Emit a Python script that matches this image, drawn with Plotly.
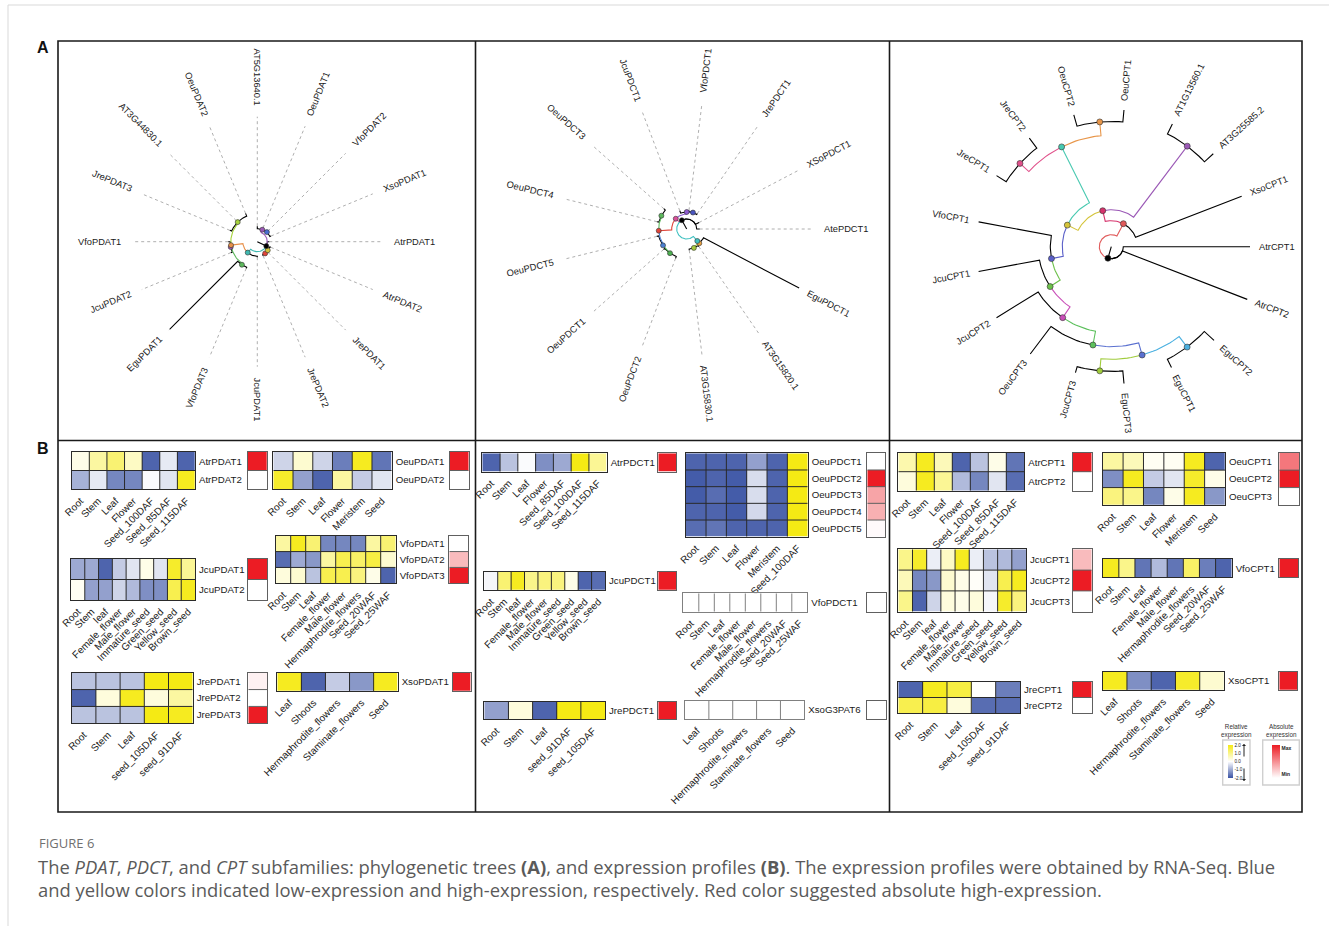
import math
import plotly.graph_objects as go

W, H = 1329, 926
FONT = "Liberation Sans, Arial, sans-serif"
CAPFONT = "Open Sans, Noto Sans, sans-serif"

# ------------------------------------------------------------------ tissues
TISSUE_ATR = ["Root", "Stem", "Leaf", "Flower", "Seed_100DAF", "Seed_85DAF", "Seed_115DAF"]
TISSUE_ATR_PDCT = ["Root", "Stem", "Leaf", "Flower", "Seed_85DAF", "Seed_100DAF", "Seed_115DAF"]
TISSUE_OEU = ["Root", "Stem", "Leaf", "Flower", "Meristem", "Seed"]
TISSUE_OEU_PDCT = ["Root", "Stem", "Leaf", "Flower", "Meristem", "Seed_100DAF"]
TISSUE_JCU = ["Root", "Stem", "leaf", "Female_flower", "Male_flower", "Immature_seed",
              "Green_seed", "Yellow_seed", "Brown_seed"]
TISSUE_VFO = ["Root", "Stem", "Leaf", "Female_flower", "Male_flower", "Hermaphrodite_flowers",
              "Seed_20WAF", "Seed_25WAF"]
TISSUE_JRE = ["Root", "Stem", "Leaf", "seed_105DAF", "seed_91DAF"]
TISSUE_JRE_PDCT = ["Root", "Stem", "Leaf", "seed_91DAF", "seed_105DAF"]
TISSUE_XSO = ["Leaf", "Shoots", "Hermaphrodite_flowers", "Staminate_flowers", "Seed"]

# ------------------------------------------------------------------ PDAT
ATR_PDAT_GENES = ["AtrPDAT1", "AtrPDAT2"]
ATR_PDAT_REL = [[0.2, 0.8, 1.2, 0.5, -1.8, -0.25, -1.8],
                [-0.9, -0.25, -1.4, -1.4, -0.05, -0.3, 1.9]]
ATR_PDAT_ABS = [1.0, 0.0]

OEU_PDAT_GENES = ["OeuPDAT1", "OeuPDAT2"]
OEU_PDAT_REL = [[-0.5, 0.4, -0.5, -1.5, 1.9, -1.6],
                [1.8, -1.1, -1.8, 0.8, -0.6, -0.3]]
OEU_PDAT_ABS = [1.0, 0.0]

JCU_PDAT_GENES = ["JcuPDAT1", "JcuPDAT2"]
JCU_PDAT_REL = [[-1.0, -1.0, -1.8, -0.6, -0.3, 0.2, -0.3, 1.8, 0.9],
                [0.1, -1.1, -1.1, -0.5, -0.8, -1.3, -1.3, 1.5, 1.9]]
JCU_PDAT_ABS = [1.0, 0.0]

VFO_PDAT_GENES = ["VfoPDAT1", "VfoPDAT2", "VfoPDAT3"]
VFO_PDAT_REL = [[0.8, 1.9, 1.2, -1.4, -1.4, -1.4, 0.8, 1.2],
                [-1.7, -1.0, -1.2, 0.8, 1.5, 1.3, 1.6, 0.4],
                [0.3, 0.4, -0.7, 1.5, 1.5, 1.1, 0.2, -1.8]]
VFO_PDAT_ABS = [0.0, 0.3, 1.0]

JRE_PDAT_GENES = ["JrePDAT1", "JrePDAT2", "JrePDAT3"]
JRE_PDAT_REL = [[-0.7, -0.7, -0.7, 2.0, 2.0],
                [-1.8, 0.3, 1.9, 0.3, 0.8],
                [-0.7, -0.7, -0.7, 2.0, 1.9]]
JRE_PDAT_ABS = [0.06, 0.0, 1.0]

XSO_PDAT_GENES = ["XsoPDAT1"]
XSO_PDAT_REL = [[1.9, -1.8, -0.6, -1.2, 1.9]]
XSO_PDAT_ABS = [1.0]

# ------------------------------------------------------------------ PDCT
ATR_PDCT_GENES = ["AtrPDCT1"]
ATR_PDCT_REL = [[-1.8, -0.7, -0.05, -1.3, -1.0, 2.0, 0.9]]
ATR_PDCT_ABS = [1.0]

OEU_PDCT_GENES = ["OeuPDCT1", "OeuPDCT2", "OeuPDCT3", "OeuPDCT4", "OeuPDCT5"]
OEU_PDCT_REL = [[-1.8, -1.8, -1.8, -1.1, -1.8, 2.0],
                [-1.9, -1.8, -1.9, -0.4, -1.8, 2.0],
                [-1.9, -1.7, -1.9, -0.4, -1.8, 2.0],
                [-1.8, -1.8, -1.9, -0.45, -1.8, 2.0],
                [-1.7, -1.6, -1.8, -1.8, -1.8, 2.0]]
OEU_PDCT_ABS = [0.0, 1.0, 0.4, 0.35, 0.02]

JCU_PDCT_GENES = ["JcuPDCT1"]
JCU_PDCT_REL = [[-0.1, 1.2, 1.9, 1.0, 1.1, 1.1, 0.2, -1.8, -1.7]]
JCU_PDCT_ABS = [1.0]

VFO_PDCT_GENES = ["VfoPDCT1"]
VFO_PDCT_REL = [[0, 0, 0, 0, 0, 0, 0, 0]]
VFO_PDCT_ABS = [0.0]

JRE_PDCT_GENES = ["JrePDCT1"]
JRE_PDCT_REL = [[-1.1, 0.3, -1.8, 2.0, 2.0]]
JRE_PDCT_ABS = [1.0]

XSO_G3PAT_GENES = ["XsoG3PAT6"]
XSO_G3PAT_REL = [[0, 0, 0, 0, 0]]
XSO_G3PAT_ABS = [0.0]

# ------------------------------------------------------------------ CPT
ATR_CPT_GENES = ["AtrCPT1", "AtrCPT2"]
ATR_CPT_REL = [[0.7, 1.9, 0.6, -1.8, -0.7, 0.2, -1.6],
               [0.3, 1.9, 0.9, -0.8, -1.4, -0.3, -1.7]]
ATR_CPT_ABS = [1.0, 0.0]

OEU_CPT_GENES = ["OeuCPT1", "OeuCPT2", "OeuCPT3"]
OEU_CPT_REL = [[0.8, 0.6, 0.1, 0.1, 1.9, -1.8],
               [-1.3, 1.9, -0.6, -0.3, 1.8, 0.2],
               [1.1, 1.0, -1.4, 0.2, 1.9, -1.2]]
OEU_CPT_ABS = [0.6, 1.0, 0.0]

JCU_CPT_GENES = ["JcuCPT1", "JcuCPT2", "JcuCPT3"]
JCU_CPT_REL = [[1.0, 1.8, -0.2, 0.5, 1.9, -0.2, -0.7, -0.8, -1.1],
               [0.6, -1.4, -1.2, 0.4, 0.2, 0.05, -0.3, 1.5, 1.9],
               [1.0, -1.8, -0.5, 0.3, 0.2, 0.3, -0.1, 1.8, 1.1]]
JCU_CPT_ABS = [0.3, 1.0, 0.0]

VFO_CPT_GENES = ["VfoCPT1"]
VFO_CPT_REL = [[1.9, 1.0, -1.6, -0.8, -1.6, 1.3, -1.5, -1.8]]
VFO_CPT_ABS = [1.0]

JRE_CPT_GENES = ["JreCPT1", "JreCPT2"]
JRE_CPT_REL = [[-1.8, 1.9, 1.6, 0.02, -1.5],
               [1.5, 1.6, 0.3, -1.7, -1.7]]
JRE_CPT_ABS = [1.0, 0.0]

XSO_CPT_GENES = ["XsoCPT1"]
XSO_CPT_REL = [[1.9, -1.3, -1.8, 1.8, 0.4]]
XSO_CPT_ABS = [1.0]

# ------------------------------------------------------------------ trees
# leaf = (name, branch length); node = (branch length, colour, [children])
TREE_PDAT = (0.10, "#000000", [
    (0.03, "#9b59b6", [("AT5G13640.1", 0.025),
                       (0.006, "#4a6cd0", [("OeuPDAT1", 0.015), ("VfoPDAT2", 0.015),
                                           ("XsoPDAT1", 0.012)])]),
    ("AtrPDAT1", 0.02),
    (0.035, "#d4c43a", [("AtrPDAT2", 0.012),
                        (0.006, "#e0453a", [("JrePDAT1", 0.012), ("JrePDAT2", 0.012)])]),
    (0.045, "#3fb8b0", [("JcuPDAT1", 0.01),
                        (0.12, "#e8904a", [
                            (0.012, "#5cb85c", [("VfoPDAT3", 0.012), ("EguPDAT1", 0.96)]),
                            (0.006, "#9b59b6", [("JcuPDAT2", 0.015), ("VfoPDAT1", 0.02)]),
                            (0.012, "#a6d23c", [("JrePDAT3", 0.02), ("AT3G44830.1", 0.02),
                                                ("OeuPDAT2", 0.03)])])]),
])

TREE_PDCT = (0.10, "#000000", [
    ("AtePDCT1", 0.03),
    ("XSoPDCT1", 0.04),
    (0.05, "#d9509a", [
        (0.02, "#8e5bd0", [(0.006, "#4a55c0", [("JrePDCT1", 0.012), ("VfoPDCT1", 0.012)]),
                           ("JcuPDCT1", 0.025)]),
        (0.13, "#e0453a", [
            (0.006, "#5cb85c", [("OeuPDCT3", 0.02), ("OeuPDCT4", 0.02)]),
            (0.008, "#4a7fd0", [("OeuPDCT5", 0.02),
                                (0.006, "#4caf50", [("OeuPDCT1", 0.015), ("OeuPDCT2", 0.02)])])])]),
    (0.06, "#3fc0c0", [
        (0.03, "#e8a040", [
            (0.012, "#a6c83c", [("AT3G15830.1", 0.012), ("AT3G15820.1", 0.012)]),
            ("EguPDCT1", 1.08)])]),
])

TREE_CPT = (0.12, "#000000", [
    (0.14, "#e05a5a", [
        ("XsoCPT1", 1.138),
        (0.11, "#d6336c", [
            (0.89, "#9b59b6", [("AT3G25585.2", 0.12), ("AT1G13560.1", 0.11)]),
            (0.12, "#d4c43a", [
                (0.625, "#48c9b0", [
                    (0.138, "#e8964a", [("OeuCPT1", 0.12), ("OeuCPT2", 0.117)]),
                    (0.121, "#e0508a", [("JreCPT2", 0.124), ("JreCPT1", 0.114)])]),
                (0.12, "#5a5fc8", [
                    ("VfoCPT1", 0.74),
                    (0.12, "#6cc04a", [
                        ("JcuCPT1", 0.62),
                        (0.13, "#c94fb8", [
                            ("JcuCPT2", 0.49),
                            (0.14, "#5cc05c", [
                                ("OeuCPT3", 0.345),
                                (0.126, "#5a70d0", [
                                    (0.121, "#a0cc3c", [("JcuCPT3", 0.063), ("EguCPT3", 0.127)]),
                                    (0.132, "#4ab0e0", [("EguCPT1", 0.092), ("EguCPT2", 0.132)])
                                ])])])])])])])]),
    ("AtrCPT2", 1.338),
    ("AtrCPT1", 1.267),
])

# ------------------------------------------------------------------ layout spec
REL_SCALE = [[0, "#3a53a4"], [0.5, "#ffffff"], [1, "#f5ea14"]]
ABS_SCALE = [[0, "#ffffff"], [1, "#ec1c24"]]

# (genes, tissues, rel, abs, heatmap box x0,x1,y0,y1 (px), abs box x0,x1, grid colour)
HEATMAPS = [
    (ATR_PDAT_GENES, TISSUE_ATR, ATR_PDAT_REL, ATR_PDAT_ABS, (71.7, 195, 451.7, 489.3), (247.7, 267), "#2a2a2a"),
    (OEU_PDAT_GENES, TISSUE_OEU, OEU_PDAT_REL, OEU_PDAT_ABS, (273.3, 391.7, 451.7, 489.3), (450, 468.5), "#2a2a2a"),
    (JCU_PDAT_GENES, TISSUE_JCU, JCU_PDAT_REL, JCU_PDAT_ABS, (71, 195, 559, 600), (248, 267), "#2a2a2a"),
    (VFO_PDAT_GENES, TISSUE_VFO, VFO_PDAT_REL, VFO_PDAT_ABS, (275.7, 395.7, 535.7, 583.3), (449.3, 468.3), "#2a2a2a"),
    (JRE_PDAT_GENES, TISSUE_JRE, JRE_PDAT_REL, JRE_PDAT_ABS, (71.7, 192.7, 672.7, 723.3), (248.3, 267.3), "#2a2a2a"),
    (XSO_PDAT_GENES, TISSUE_XSO, XSO_PDAT_REL, XSO_PDAT_ABS, (277.3, 397.7, 672.7, 691), (452.7, 470.5), "#2a2a2a"),
    (ATR_PDCT_GENES, TISSUE_ATR_PDCT, ATR_PDCT_REL, ATR_PDCT_ABS, (482.3, 606.7, 453.3, 471.7), (658.3, 676.3), "#2a2a2a"),
    (OEU_PDCT_GENES, TISSUE_OEU_PDCT, OEU_PDCT_REL, OEU_PDCT_ABS, (685.7, 807.7, 453.3, 536.7), (867.3, 885), "#2a2a2a"),
    (JCU_PDCT_GENES, TISSUE_JCU, JCU_PDCT_REL, JCU_PDCT_ABS, (484.3, 605, 571.7, 590), (658.3, 676.3), "#2a2a2a"),
    (VFO_PDCT_GENES, TISSUE_VFO, VFO_PDCT_REL, VFO_PDCT_ABS, (683.3, 807.3, 593.3, 611.7), (867.3, 885.7), "#808080"),
    (JRE_PDCT_GENES, TISSUE_JRE_PDCT, JRE_PDCT_REL, JRE_PDCT_ABS, (484.3, 605, 701.7, 719.3), (658.3, 676.3), "#2a2a2a"),
    (XSO_G3PAT_GENES, TISSUE_XSO, XSO_G3PAT_REL, XSO_G3PAT_ABS, (685, 804.3, 701, 719), (867.3, 885.7), "#808080"),
    (ATR_CPT_GENES, TISSUE_ATR, ATR_CPT_REL, ATR_CPT_ABS, (898.3, 1024.3, 452.7, 490.7), (1072.7, 1091.7), "#2a2a2a"),
    (OEU_CPT_GENES, TISSUE_OEU, OEU_CPT_REL, OEU_CPT_ABS, (1102.7, 1225, 452.7, 505), (1279.3, 1299), "#2a2a2a"),
    (JCU_CPT_GENES, TISSUE_JCU, JCU_CPT_REL, JCU_CPT_ABS, (898.3, 1026, 549.3, 611.7), (1072.7, 1091.7), "#2a2a2a"),
    (VFO_CPT_GENES, TISSUE_VFO, VFO_CPT_REL, VFO_CPT_ABS, (1102.7, 1231.7, 559, 577.3), (1279.3, 1298.3), "#2a2a2a"),
    (JRE_CPT_GENES, TISSUE_JRE, JRE_CPT_REL, JRE_CPT_ABS, (898.3, 1020, 681.7, 713.3), (1072.7, 1091.7), "#2a2a2a"),
    (XSO_CPT_GENES, TISSUE_XSO, XSO_CPT_REL, XSO_CPT_ABS, (1102.7, 1224, 671.7, 690), (1279.3, 1297.3), "#2a2a2a"),
]

TREES = [
    dict(tree=TREE_PDAT, center=(257.3, 241.7), start=90, step=360 / 16, direction=-1,
         scale=100, align=125, label_r=135, dot=5),
    dict(tree=TREE_PDCT, center=(686.7, 229.0), start=0, step=360 / 13, direction=1,
         scale=100, align=126.5, label_r=136, dot=5),
    dict(tree=TREE_CPT, center=(1111.3, 246.7), start=360 / 17, step=360 / 17, direction=1,
         scale=100, align=None, label_gap=8, dot=6),
]

# ------------------------------------------------------------------ helpers
AW = {**{c: w for c, w in zip("ABCDEFGHIJKLMNOPQRSTUVWXYZ",
                               [667, 667, 722, 722, 667, 611, 778, 722, 278, 500, 667, 556, 833,
                                722, 778, 667, 778, 722, 667, 611, 722, 667, 944, 667, 667, 611])},
      **{c: w for c, w in zip("abcdefghijklmnopqrstuvwxyz",
                               [556, 556, 500, 556, 556, 278, 556, 556, 222, 222, 500, 222, 833,
                                556, 556, 556, 556, 333, 500, 278, 556, 500, 722, 500, 500, 500])},
      **{c: 556 for c in "0123456789"}, ".": 278, "_": 556, " ": 278, "-": 333}


def text_w(s, size):
    return sum(AW.get(c, 556) for c in s) / 1000.0 * size


fig = go.Figure()
axes = {
    "xaxis": dict(domain=[0, 1], range=[0, W], visible=False, fixedrange=True),
    "yaxis": dict(domain=[0, 1], range=[H, 0], visible=False, fixedrange=True),
}


def grid_trace(nrow, ncol, xa, ya, color):
    xs, ys = [], []
    for j in range(1, ncol):
        xs += [j - 0.5, j - 0.5, None]
        ys += [-0.5, nrow - 0.5, None]
    for i in range(1, nrow):
        xs += [-0.5, ncol - 0.5, None]
        ys += [i - 0.5, i - 0.5, None]
    if xs:
        fig.add_trace(go.Scatter(x=xs, y=ys, mode="lines", line=dict(color=color, width=1),
                                 hoverinfo="skip", showlegend=False, xaxis=xa, yaxis=ya))


ax_n = 2
for k, (genes, tissues, rel, absv, box, abox, gcol) in enumerate(HEATMAPS):
    x0, x1, y0, y1 = box
    nrow, ncol = len(genes), len(tissues)
    # relative expression
    i = ax_n
    ax_n += 1
    xa, ya = f"x{i}", f"y{i}"
    cb = None
    if k == 0:
        cb = dict(x=1228.3 / W, xanchor="left", y=1 - 761.5 / H, yanchor="middle",
                  len=33, lenmode="pixels", thickness=4.5, thicknessmode="pixels",
                  outlinewidth=0, ticks="", xpad=0, ypad=0,
                  tickvals=[2, 1, 0, -1, -2], ticktext=["2.0", "1.0", "0.0", "-1.0", "-2.0"],
                  tickfont=dict(size=4.6, color="#222", family=FONT))
    fig.add_trace(go.Heatmap(z=rel, x=list(range(ncol)), y=list(range(nrow)),
                             colorscale=REL_SCALE, zmin=-2, zmax=2, showscale=(k == 0),
                             colorbar=cb, hoverinfo="skip", xaxis=xa, yaxis=ya))
    grid_trace(nrow, ncol, xa, ya, gcol)
    axes[f"xaxis{i}"] = dict(domain=[x0 / W, x1 / W], anchor=ya, range=[-0.5, ncol - 0.5],
                             tickmode="array", tickvals=list(range(ncol)), ticktext=tissues,
                             tickangle=-45, tickfont=dict(size=10, color="#1a1a1a", family=FONT),
                             showgrid=False, zeroline=False, showline=True, mirror=True,
                             linecolor=gcol, linewidth=1, ticks="", fixedrange=True,
                             ticklabelstandoff=1)
    axes[f"yaxis{i}"] = dict(domain=[1 - y1 / H, 1 - y0 / H], anchor=xa, range=[nrow - 0.5, -0.5],
                             side="right", tickmode="array", tickvals=list(range(nrow)), ticktext=genes,
                             tickfont=dict(size=9.7, color="#1a1a1a", family=FONT),
                             showgrid=False, zeroline=False, showline=True, mirror=True,
                             linecolor=gcol, linewidth=1, ticks="", fixedrange=True,
                             ticklabelstandoff=1)
    # absolute expression
    j = ax_n
    ax_n += 1
    xb, yb = f"x{j}", f"y{j}"
    cb2 = None
    if k == 0:
        cb2 = dict(x=1271.7 / W, xanchor="left", y=1 - 761.5 / H, yanchor="middle",
                   len=33, lenmode="pixels", thickness=8.3, thicknessmode="pixels",
                   outlinewidth=0, ticks="", xpad=0, ypad=0,
                   tickvals=[0.9, 0.1], ticktext=["<b>Max</b>", "<b>Min</b>"],
                   tickfont=dict(size=5, color="#222", family=FONT))
    fig.add_trace(go.Heatmap(z=[[v] for v in absv], x=[0], y=list(range(nrow)),
                             colorscale=ABS_SCALE, zmin=0, zmax=1, showscale=(k == 0),
                             colorbar=cb2, hoverinfo="skip", xaxis=xb, yaxis=yb))
    grid_trace(nrow, 1, xb, yb, "#606060")
    axes[f"xaxis{j}"] = dict(domain=[abox[0] / W, abox[1] / W], anchor=yb, range=[-0.5, 0.5],
                             showticklabels=False, showgrid=False, zeroline=False, showline=True,
                             mirror=True, linecolor="#606060", linewidth=1, ticks="", fixedrange=True)
    axes[f"yaxis{j}"] = dict(domain=[1 - y1 / H, 1 - y0 / H], anchor=xb, range=[nrow - 0.5, -0.5],
                             showticklabels=False, showgrid=False, zeroline=False, showline=True,
                             mirror=True, linecolor="#606060", linewidth=1, ticks="", fixedrange=True)

# ------------------------------------------------------------------ trees


def build_tree(tree, start, step, direction):
    leaves, nodes, segs = [], [], []
    counter = [0]

    def rec(node, r_parent):
        if isinstance(node[0], str):
            name, bl = node
            a = start + direction * counter[0] * step
            counter[0] += 1
            r = r_parent + bl
            leaves.append((name, a, r))
            return a, r, "#000000"
        bl, color, kids = node
        r = r_parent + bl
        info = [rec(kd, r) for kd in kids]
        a = sum(t[0] for t in info) / len(info)
        for ca, cr, ccol in info:
            n = max(2, int(abs(ca - a) / 2) + 2)
            arc = [(r, a + (ca - a) * t / (n - 1)) for t in range(n)]
            segs.append((ccol, arc + [(cr, ca)]))
        nodes.append((a, r, color))
        return a, r, color

    a, r, _ = rec(tree, 0.0)
    segs.append(("#000000", [(0.0, a), (r, a)]))
    return leaves, nodes, segs


annotations = []
for T in TREES:
    cx, cy = T["center"]
    s = T["scale"]

    def P(r, a):
        return cx + s * r * math.cos(math.radians(a)), cy - s * r * math.sin(math.radians(a))

    leaves, nodes, segs = build_tree(T["tree"], T["start"], T["step"], T["direction"])
    bycol = {}
    for col, pts in segs:
        xs, ys = bycol.setdefault(col, ([], []))
        for r, a in pts:
            px, py = P(r, a)
            xs.append(px)
            ys.append(py)
        xs.append(None)
        ys.append(None)
    # dotted alignment lines
    if T["align"] is not None:
        dx, dy = [], []
        for name, a, r in leaves:
            if r * s < T["align"] - 1:
                for rr in (r * s, T["align"]):
                    dx.append(cx + rr * math.cos(math.radians(a)))
                    dy.append(cy - rr * math.sin(math.radians(a)))
                dx.append(None)
                dy.append(None)
        fig.add_trace(go.Scatter(x=dx, y=dy, mode="lines", hoverinfo="skip", showlegend=False,
                                 line=dict(color="#9a9a9a", width=0.8, dash="dot")))
    for col, (xs, ys) in bycol.items():
        fig.add_trace(go.Scatter(x=xs, y=ys, mode="lines", hoverinfo="skip", showlegend=False,
                                 line=dict(color=col, width=1.1)))
    nx = [P(r, a)[0] for a, r, c in nodes]
    ny = [P(r, a)[1] for a, r, c in nodes]
    fig.add_trace(go.Scatter(x=nx, y=ny, mode="markers", hoverinfo="skip", showlegend=False,
                             marker=dict(size=T["dot"], color=[c for a, r, c in nodes],
                                         line=dict(color="#333", width=0.6))))
    fs = 9.3
    for name, a, r in leaves:
        rl = T["label_r"] if T["align"] is not None else r * s + T["label_gap"]
        w = text_w(name, fs)
        rc = rl + w / 2 + 1
        am = a % 360
        ang = (180 - am) if 90 <= am < 270 else -am
        annotations.append(dict(x=cx + rc * math.cos(math.radians(a)),
                                y=cy - rc * math.sin(math.radians(a)),
                                xref="x", yref="y", text=name, showarrow=False,
                                textangle=ang, xanchor="center", yanchor="middle",
                                font=dict(size=fs, color="#1a1a1a", family=FONT)))

# ------------------------------------------------------------------ frame & text
shapes = [
    dict(type="rect", x0=8, y0=5, x1=W + 20, y1=H + 20, xref="x", yref="y",
         line=dict(color="#d9d9d9", width=1)),
    dict(type="rect", x0=58, y0=41, x1=1302, y1=812, xref="x", yref="y",
         line=dict(color="#1a1a1a", width=1.6)),
    dict(type="line", x0=58, y0=440.5, x1=1302, y1=440.5, xref="x", yref="y",
         line=dict(color="#1a1a1a", width=1.6)),
    dict(type="line", x0=475.5, y0=41, x1=475.5, y1=812, xref="x", yref="y",
         line=dict(color="#1a1a1a", width=1.6)),
    dict(type="line", x0=889.5, y0=41, x1=889.5, y1=812, xref="x", yref="y",
         line=dict(color="#1a1a1a", width=1.6)),
    dict(type="rect", x0=1222.7, y0=740, x1=1250, y1=785, xref="x", yref="y",
         line=dict(color="#cfcfcf", width=1.4)),
    dict(type="rect", x0=1262.7, y0=740, x1=1299.3, y1=785, xref="x", yref="y",
         line=dict(color="#cfcfcf", width=1.4)),
]

annotations += [
    dict(x=43, y=47, xref="x", yref="y", text="<b>A</b>", showarrow=False,
         font=dict(size=16, color="#111", family=FONT)),
    dict(x=43, y=448, xref="x", yref="y", text="<b>B</b>", showarrow=False,
         font=dict(size=16, color="#111", family=FONT)),
    dict(x=1236.3, y=731, xref="x", yref="y", text="Relative<br>expression", showarrow=False,
         font=dict(size=6.3, color="#333", family=FONT)),
    dict(x=1281, y=731, xref="x", yref="y", text="Absolute<br>expression", showarrow=False,
         font=dict(size=6.3, color="#333", family=FONT)),
    dict(x=1244, y=744, ax=1244, ay=758, xref="x", yref="y", axref="x", ayref="y", text="",
         showarrow=True, arrowhead=1, arrowsize=0.7, arrowwidth=1, arrowcolor="#222"),
    dict(x=1244, y=781, ax=1244, ay=767, xref="x", yref="y", axref="x", ayref="y", text="",
         showarrow=True, arrowhead=1, arrowsize=0.7, arrowwidth=1, arrowcolor="#222"),
    dict(x=37, y=843, xref="x", yref="y", text="FIGURE 6", showarrow=False, xanchor="left",
         font=dict(size=13, color="#707070", family=CAPFONT)),
    dict(x=36, y=866, xref="x", yref="y", xanchor="left", showarrow=False,
         text="The <i>PDAT</i>, <i>PDCT</i>, and <i>CPT</i> subfamilies: phylogenetic trees <b>(A)</b>, "
              "and expression profiles <b>(B)</b>. The expression profiles were obtained by RNA-Seq. Blue",
         font=dict(size=18.4, color="#5a5a5a", family=CAPFONT)),
    dict(x=36, y=889, xref="x", yref="y", xanchor="left", showarrow=False,
         text="and yellow colors indicated low-expression and high-expression, respectively. "
              "Red color suggested absolute high-expression.",
         font=dict(size=18.4, color="#5a5a5a", family=CAPFONT)),
]

fig.update_layout(width=W, height=H, autosize=False,
                  margin=dict(l=0, r=0, t=0, b=0, pad=0, autoexpand=False),
                  paper_bgcolor="white", plot_bgcolor="white", showlegend=False,
                  shapes=shapes, annotations=annotations, **axes)

fig.write_html("out.html")
